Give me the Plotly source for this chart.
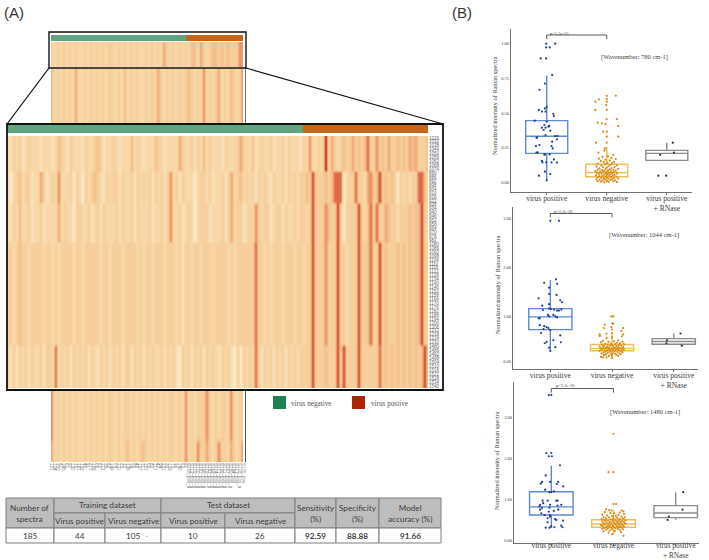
import plotly.graph_objects as go

W, H = 709, 560

# ---------- panel A data: digit-coded spectral intensity per band ----------
MAIN_BANDS = [
    "2132312322 2122212432 1322213223 4312232122 2423212224 3212222532 2313242322 2132223532 2412322312 2313222132 6223292532 3433534347 3363435334 3435453334",
    "2023423312 2531232622 2303203234 3213233132 2313232313 2313623132 2202332312 2313523423 2313232132 2313232334 3833343477 7023373325 6348343430 3232337742",
    "2132422312 2312222523 2203322312 3132223132 2313222312 2313622312 3202333122 2313523312 3263233123 3132232332 3833364338 3033338324 7373354332 3334344832",
    "3323433233 3323323233 3323323333 3233233323 3332323323 3323332313 3233233323 3332323333 3373323233 3233323323 3833363338 3323338334 7338343334 3434344833",
    "3131323132 2313327132 3132323132 1323132313 3132313232 2313231032 3132313232 1323103032 3273132313 2313232333 3833343338 3833338333 3337343434 3434343483",
]
MAIN_BAND_ROWS = [9, 8, 10, 26, 11]
ROW_LABELS = [
    "1026", "1032", "1038", "1044", "1050", "1056", "1062", "1068", "1074",
    "880", "886", "892", "898", "904", "910", "916", "922",
    "928", "934", "940", "946", "952", "958", "964", "970", "976", "982",
    "1080", "1086", "1092", "1098", "1104", "1110", "1116", "1122", "1128", "1134", "1140", "1146", "1152",
    "1158", "1164", "1170", "1176", "1182", "1188", "1194", "1200", "1206", "1212", "1218", "1224", "1230",
    "1480", "1486", "1492", "1498", "1504", "1510", "1516", "1522", "1528", "1534", "1540",
]
THUMB_TOP = "3232323232 2323232323 3232323232 2323232532 3232324425 3234434343 3365"
THUMB_MID = "4232323252 2323232323 3232423232 2323253232 3232343232 6232352324 3236"
THUMB_LOW_A = "6232323232 2323232323 3232332323 2323232323 3232623233 3632323326 3233"
THUMB_LOW_B = "5232323232 2323232323 3232342323 4323232323 3232623263 3532363325 3236"
THUMB_LABELS = [
    "121", "104", "330", "87", "145", "61", "90", "120", "76", "181", "132", "45", "91", "270", "158", "66",
    "50", "113", "39", "82", "149", "54", "101", "23", "70", "136", "14", "95", "48", "127", "31", "163",
    "58", "80", "117", "42", "84", "151", "20", "109", "73", "36", "140", "52", "97",
    "S168_pos_a", "S172_pos_a", "S175_pos_b", "S170_pos_a", "S181_pos_b", "S166_pos_a", "S179_pos_c", "S183_pos_a",
    "S169_pos_b", "S174_pos_a", "S177_pos_a", "S185_pos_b", "S171_pos_a", "S167_pos_c", "S180_pos_a", "S184_pos", "S173_pos",
    "S178_pos_a", "S176_pos",
]
N_GREEN, N_ORANGE = 130, 55
HEAT_COLORS = ["#fbeccb", "#f9e0b9", "#f8d8a9", "#f6cf9c", "#f3c08b", "#efa878", "#e88c60", "#dd6a48", "#c9422e", "#7f0000"]

# ---------- table ----------
TABLE_COLS = [6, 54, 105, 161, 225, 295, 336, 379, 441]
TABLE_ROWS = [498, 513, 528, 543]
TABLE_VALUES = ["185", "44", "105", "10", "26", "92.59", "88.88", "91.66"]

# ---------- panel B data ----------
CATS = ["virus positive", "virus negative", "virus positive<br>+ RNase"]
BOX_COLORS = ["#5f88d6", "#f0bd55", "#8c8c8c"]
DOT_COLORS = ["#1f3f94", "#d9890f", "#333333"]

# q1, median, q3, lower whisker, upper whisker
P1_STATS = [(.21, .333, .445, .02, .77), (.043, .072, .132, .0, .258), (.16, .21, .232, .16, .287)]
P2_STATS = [(.72, .98, 1.15, .29, 1.735), (.285, .335, .415, .16, .65), (.42, .475, .535, .42, .64)]
P3_STATS = [(.62, .82, 1.19, .30, 1.83), (.32, .40, .505, .13, .74), (.555, .67, .85, .505, 1.18)]

P1_POS = [(-.01,.998),(.14,.998),(-.01,.971),(.05,.971),(-.10,.892),(-.01,.892),(.09,.773),(-.03,.711),(-.12,.667),
          (0,.545),(-.03,.533),(-.13,.522),(-.08,.510),(-.02,.510),(.11,.493),(.12,.478),(-.20,.445),(0,.438),
          (-.04,.414),(.04,.407),(-.08,.395),(-.02,.395),(.03,.402),(-.05,.378),(.06,.373),(-.16,.323),(-.17,.323),
          (-.02,.342),(.14,.335),(.18,.335),(.17,.311),(.09,.294),(-.12,.270),(-.18,.263),(.08,.263),(.10,.246),
          (-.15,.218),(-.17,.215),(-.03,.203),(-.04,.201),(.05,.203),(.12,.167),(-.08,.156),(-.07,.146),(.08,.146),
          (.17,.144),(-.01,.146),(-.03,.079),(-.13,.050),(.06,.062),(0,.017)]
P1_NEG = [(0,.624),(.15,.624),(0,.60),(-.13,.598),(-.19,.581),(0,.581),(-.01,.557),(-.19,.522),(0,.522),(0,.457),
          (.17,.457),(-.15,.431),(-.08,.426),(-.02,.421),(.19,.407),(-.06,.366),(0,.366),(0,.33),(.19,.33),(-.18,.287),
          (0,.287),(-.03,.246),(-.04,.23),(-.14,.215),(.11,.20),(.02,.19),(-.07,.185),(.08,.178),(-.13,.172),(.15,.17),
          (-.02,.165),(.05,.16),(-.10,.155),(.12,.15),(-.05,.148),(.01,.142),(.09,.14),(-.15,.135),(-.03,.13),(.06,.128),
          (.17,.125),(-.09,.122),(.03,.118),(-.17,.115),(.13,.112),(-.06,.11),(.0,.108),(.08,.105),(-.12,.102),(.19,.1),
          (-.02,.098),(.05,.096),(-.15,.094),(.11,.092),(-.08,.09),(.02,.088),(.15,.086),(-.04,.085),(-.19,.083),(.07,.082),
          (-.11,.08),(.0,.078),(.12,.076),(-.06,.075),(.04,.073),(-.16,.072),(.09,.07),(-.01,.068),(.17,.066),(-.09,.065),
          (.02,.063),(-.13,.062),(.06,.06),(-.04,.058),(.13,.056),(.0,.055),(-.18,.053),(.1,.052),(-.07,.05),(.04,.048),
          (-.12,.046),(.16,.044),(-.02,.043),(.07,.041),(-.15,.039),(.01,.037),(-.09,.035),(.12,.034),(-.05,.032),(.19,.03),
          (.03,.028),(-.17,.026),(.09,.025),(-.03,.023),(-.12,.021),(.06,.019),(.14,.017),(-.07,.015),(.0,.013),(-.15,.011),
          (.11,.01),(-.1,.008),(.03,.006),(.17,.004),(-.04,.002)]
P1_RNA = [(.10,.287),(.12,.215),(-.11,.20),(-.14,.05),(-.01,.05)]

P2_POS = [(0,2.95),(.14,2.95),(.09,1.75),(-.10,1.68),(.11,1.66),(-.02,1.58),(-.02,1.45),(.10,1.43),(-.19,1.36),
          (-.02,1.24),(.16,1.32),(.19,1.28),(-.13,1.21),(-.02,1.15),(.18,1.13),(.01,1.14),(-.12,1.12),(.06,1.13),
          (.11,1.11),(.14,1.11),(-.04,1.02),(.05,1.02),(.08,.99),(.11,.97),(-.17,.95),(-.19,.95),(-.02,.99),
          (-.17,.81),(-.10,.79),(-.06,.77),(-.11,.73),(-.03,.75),(0,.71),(-.15,.65),(.16,.60),(-.06,.47),(-.09,.44),
          (.05,.50),(.17,.46),(-.02,.35),(.08,.36),(0,.28)]
P2_NEG = [(-.01,.99),(.02,.99),(0,.85),(-.12,.82),(.02,.84),(-.01,.77),(.18,.75),(-.13,.75),(0,.72),(.15,.69),
          (-.20,.62),(-.09,.64),(.18,.62),(0,.65),(.16,.58),(-.20,.59),(-.09,.55),(0,.56),
          (.10,.50),(-.15,.49),(.03,.48),(.17,.47),(-.06,.47),(-.18,.46),(.08,.45),(-.02,.44),(.13,.44),(-.11,.43),
          (.19,.42),(.05,.42),(-.07,.41),(-.16,.41),(.11,.40),(.0,.40),(-.03,.39),(.15,.39),(-.13,.38),(.07,.38),
          (-.2,.37),(.02,.37),(-.08,.36),(.18,.36),(.1,.355),(-.05,.35),(-.15,.35),(.04,.345),(.13,.34),(-.1,.34),
          (-.01,.335),(.07,.33),(-.18,.33),(.16,.325),(-.06,.32),(.02,.32),(-.12,.315),(.1,.31),(.19,.31),(-.03,.305),
          (-.16,.30),(.06,.30),(.12,.295),(-.08,.29),(.0,.29),(-.2,.285),(.15,.28),(.04,.275),(-.11,.27),(-.04,.265),
          (.09,.26),(.17,.255),(-.14,.25),(.01,.245),(-.07,.24),(.12,.235),(-.17,.23),(.05,.225),(-.02,.22),(.14,.215),
          (-.1,.21),(.07,.205),(-.13,.20),(.0,.19),(-.05,.18),(.1,.18),(-.18,.16),(-.15,.15),(-.09,.15),(0,.14)]
P2_RNA = [(.11,.64),(-.11,.50),(-.12,.44),(.13,.39)]

P3_POS = [(-.04,3.56),(0,3.56),(-.08,2.14),(0,2.14),(-.04,2.06),(.01,2.06),(.14,1.84),(-.09,1.59),(-.15,1.43),
          (-.17,1.39),(-.02,1.43),(.11,1.43),(.09,1.38),(.19,1.32),(-.10,1.24),(-.03,1.18),(0,1.18),(.04,1.2),
          (-.14,.97),(-.13,.91),(-.06,.97),(.08,.97),(.10,.97),(-.18,.87),(-.19,.83),(-.02,.87),(.10,.85),(.16,.87),
          (-.15,.79),(-.03,.80),(-.18,.75),(.11,.75),(-.04,.70),(.04,.72),(-.16,.66),(-.11,.62),(-.02,.62),(-.02,.58),
          (-.06,.54),(.06,.52),(.08,.50),(.19,.48),(-.06,.44),(0,.34),(-.09,.31),(-.03,.31),(.05,.32),(.16,.36),(.18,.32)]
P3_NEG = [(0,2.61),(-.08,1.67),(0,1.67),(0,.89),(.04,.89),(-.12,.76),(-.07,.74),(-.03,.73),(.13,.73),(.16,.71),
          (-.14,.69),(.1,.68),(-.05,.67),(.01,.66),(.17,.65),(-.18,.63),(.08,.62),(-.1,.61),(.04,.60),(-.02,.59),
          (.13,.58),(-.16,.57),(.18,.56),(-.07,.56),(.06,.55),(-.12,.54),(.0,.54),(.15,.53),(-.19,.52),(.1,.52),
          (-.04,.51),(.03,.50),(-.15,.50),(.19,.49),(-.09,.49),(.08,.48),(-.01,.48),(.14,.47),(-.13,.47),(.05,.46),
          (-.18,.46),(-.06,.45),(.11,.45),(.01,.44),(.17,.44),(-.11,.43),(-.03,.43),(.07,.42),(-.16,.42),(.13,.41),
          (-.08,.41),(.02,.40),(.19,.40),(-.14,.39),(.09,.39),(-.05,.38),(.04,.38),(-.2,.37),(.15,.37),(-.1,.36),
          (-.01,.36),(.11,.35),(-.17,.35),(.06,.34),(-.07,.34),(.17,.33),(.0,.33),(-.12,.32),(.09,.32),(-.04,.31),
          (.13,.31),(-.15,.30),(.03,.30),(-.09,.29),(.07,.28),(-.18,.28),(.15,.27),(-.02,.27),(-.12,.26),(.1,.25),
          (-.06,.24),(.02,.23),(-.16,.22),(.12,.2),(-.08,.19),(-.02,.15),(.16,.11)]
P3_RNA = [(.12,1.18),(.11,.75),(-.11,.58),(-.13,.50)]

# ---------- helpers ----------
def expand(s):
    return [int(c) for c in s.replace(" ", "")]

def dom(x0, x1, y0, y1):
    return dict(domain=[x0 / W, x1 / W]), dict(domain=[1 - y1 / H, 1 - y0 / H])

def px(x):
    return x / W

def py(y):
    return 1 - y / H

fig = go.Figure()
layout = dict()
axis_n = [0]
colorscale = [[i / 9, c] for i, c in enumerate(HEAT_COLORS)]
bar_scale = [[0, "#5fa580"], [1, "#c4661b"]]

def new_axes(x0, x1, y0, y1, xopts=None, yopts=None):
    axis_n[0] += 1
    n = axis_n[0]
    sfx = "" if n == 1 else str(n)
    xd, yd = dom(x0, x1, y0, y1)
    base = dict(showgrid=False, zeroline=False, showticklabels=False, ticks="", showline=False, automargin=False)
    layout["xaxis" + sfx] = {**base, **xd, "anchor": "y" + sfx, **(xopts or {})}
    layout["yaxis" + sfx] = {**base, **yd, "anchor": "x" + sfx, **(yopts or {})}
    return "x" + sfx, "y" + sfx

def heat(z, box, xopts=None, yopts=None, scale=colorscale, zmax=9, smooth="best"):
    xa, ya = new_axes(*box, xopts, yopts)
    fig.add_trace(go.Heatmap(z=z, colorscale=scale, zmin=0, zmax=zmax, showscale=False, zsmooth=smooth,
                             xaxis=xa, yaxis=ya, hoverinfo="skip"))

# ---------- panel A heatmaps ----------
main_z = []
for band, rows in zip(MAIN_BANDS, MAIN_BAND_ROWS):
    main_z += [expand(band)] * rows
heat(main_z, (7, 428, 136, 388),
     dict(range=[0, 139]),
     dict(range=[63.5, -.5], side="right", showticklabels=True, tickmode="array",
          tickvals=list(range(64)), ticktext=ROW_LABELS, tickfont=dict(size=4.5, color="#666666", family="Liberation Sans")))
bar = [[0] * N_GREEN + [1] * N_ORANGE]
heat(bar, (7, 428, 125, 133), scale=bar_scale, zmax=1, smooth=False)
heat(bar, (51, 243, 35, 41), scale=bar_scale, zmax=1, smooth=False)
heat([expand(THUMB_TOP)] * 2, (51, 243, 42, 67), dict(range=[0, 63]))
heat([expand(THUMB_MID)] * 2, (51, 243, 68, 124), dict(range=[0, 63]))
heat([expand(THUMB_LOW_B)] * 3 + [expand(THUMB_LOW_A)] * 7, (51, 243, 390, 462),
     dict(range=[0, 63], showticklabels=True, tickmode="array", tickvals=list(range(64)), ticktext=THUMB_LABELS, tickangle=90,
          tickfont=dict(size=4.5, color="#808080", family="Liberation Sans")))

# ---------- panel B ----------
panels = [
    dict(box=(511, 692, 29, 192), xr=[-.595, 2.42], yr=[-.067, 1.103], stats=P1_STATS, pts=[P1_POS, P1_NEG, P1_RNA],
         tv=[0, .25, .5, .75, 1], tt=["0.00", "0.25", "0.50", "0.75", "1.00"], br=(1.06, 1.03), so=-3, fs=7.6,
         p="p<1.5e-15", px=559, py=33.7, wave="[Wavenumber: 780 cm-1]", wx=634, wy=57, tx=494, ty=106),
    dict(box=(513, 698, 207, 369), xr=[-.605, 2.393], yr=[-.088, 3.233], stats=P2_STATS, pts=[P2_POS, P2_NEG, P2_RNA],
         tv=[.066, 1, 2, 3], tt=["0.00", "1.00", "2.00", "3.00"], br=(3.10, 3.02), so=-3, fs=7.6,
         p="p<2.2e-16", px=563, py=211, wave="[Wavenumber: 1044 cm-1]", wx=644, wy=234.7, tx=497, ty=285),
    dict(box=(514, 699, 382, 542.7), xr=[-.6, 2.375], yr=[-.059, 3.88], stats=P3_STATS, pts=[P3_POS, P3_NEG, P3_RNA],
         tv=[0, 1, 2, 3], tt=["0.00", "1.00", "2.00", "3.00"], br=(3.72, 3.62), so=-6, fs=7.3,
         p="p<2.2e-16", px=565, py=385, wave="[Wavenumber: 1480 cm-1]", wx=645, wy=411.7, tx=496, ty=461),
]
annotations = []
SERIF = "Liberation Serif"

def note(x, y, text, size, color="#404040", family=SERIF, angle=0, xanchor="center", bold=False):
    if bold:
        text = "<b>" + text + "</b>"
    annotations.append(dict(x=px(x), y=py(y), xref="paper", yref="paper", text=text, showarrow=False,
                            font=dict(size=size, color=color, family=family), textangle=angle,
                            xanchor=xanchor, yanchor="middle", align="center"))

axis_line = dict(showline=True, linecolor="#707070", linewidth=1)
for pan in panels:
    xa, ya = new_axes(*pan["box"],
                      dict(range=pan["xr"], tickmode="array", tickvals=[0, 1, 2], ticktext=CATS, showticklabels=True,
                           ticks="outside", ticklen=2, tickcolor="#707070", ticklabelstandoff=pan["so"],
                           tickfont=dict(size=pan["fs"], color="#404040", family=SERIF), **axis_line),
                      dict(range=pan["yr"], tickmode="array", tickvals=pan["tv"], ticktext=pan["tt"], showticklabels=True,
                           tickfont=dict(size=4.5, color="#404040", family=SERIF), **axis_line))
    for i, (st, pts) in enumerate(zip(pan["stats"], pan["pts"])):
        fig.add_trace(go.Box(x=[i], q1=[st[0]], median=[st[1]], q3=[st[2]], lowerfence=[st[3]], upperfence=[st[4]],
                             width=.7, whiskerwidth=0, boxpoints=False, fillcolor="rgba(0,0,0,0)",
                             line=dict(color=BOX_COLORS[i], width=1.4), xaxis=xa, yaxis=ya, hoverinfo="skip"))
        fig.add_trace(go.Scatter(x=[i + p[0] for p in pts], y=[p[1] for p in pts], mode="markers",
                                 marker=dict(size=2.2, color=DOT_COLORS[i]), xaxis=xa, yaxis=ya, hoverinfo="skip"))
    top, low = pan["br"]
    fig.add_trace(go.Scatter(x=[0, 0, 1, 1], y=[low, top, top, low], mode="lines",
                             line=dict(color="#5a5a5a", width=1), xaxis=xa, yaxis=ya, hoverinfo="skip"))
    note(pan["px"], pan["py"], pan["p"], 4.5)
    note(pan["wx"], pan["wy"], pan["wave"], 6.5)
    note(pan["tx"], pan["ty"], "Normalized intensity of Raman spectra", 6.3, angle=-90)

# ---------- shapes ----------
shapes = []

def rect(x0, y0, x1, y1, line=None, width=1, fill=None):
    shapes.append(dict(type="rect", xref="paper", yref="paper", x0=px(x0), x1=px(x1), y0=py(y0), y1=py(y1),
                       line=dict(color=line, width=width) if line else dict(width=0), fillcolor=fill, layer="above"))

def seg(x0, y0, x1, y1, color="#111111", width=1.2):
    shapes.append(dict(type="line", xref="paper", yref="paper", x0=px(x0), x1=px(x1), y0=py(y0), y1=py(y1),
                       line=dict(color=color, width=width), layer="above"))

seg(245.5, 68, 245.5, 124, "#777777", 1)
seg(245.5, 390, 245.5, 462, "#555555", 1)
rect(49, 32, 246, 68, "#111111", 1.4)
rect(7, 124, 443, 390, "#111111", 1.8)
seg(49, 68, 7, 124)
seg(246, 68, 443, 124)
rect(273, 396, 286, 409, fill="#1f8050")
rect(352, 396, 365, 409, fill="#ad2408")
note(289, 404, "virus negative", 7.2, "#555555", xanchor="left")
note(369, 404, "virus postive", 7.2, "#555555", xanchor="left")
note(2, 12, "(A)", 15, "#333333", "Liberation Sans", xanchor="left")
note(450, 12, "(B)", 15, "#333333", "Liberation Sans", xanchor="left")

# ---------- table ----------
C, R = TABLE_COLS, TABLE_ROWS
BORDER = "#7f7f7f"
GRAY = "#bdbdbd"
TEXT = "#404040"
LATO = "Lato"
rect(C[0], R[0], C[1], R[2], BORDER, 1, GRAY)
rect(C[1], R[0], C[3], R[1], BORDER, 1, GRAY)
rect(C[3], R[0], C[5], R[1], BORDER, 1, GRAY)
for k in (1, 2, 3, 4):
    rect(C[k], R[1], C[k + 1], R[2], BORDER, 1, GRAY)
for k in (5, 6, 7):
    rect(C[k], R[0], C[k + 1], R[2], BORDER, 1, GRAY)
for k in range(8):
    rect(C[k], R[2], C[k + 1], R[3], BORDER, 1, "#ffffff")

def mid(a, b):
    return (a + b) / 2

TS = 8.2
note(mid(C[0], C[1]), mid(R[0], R[2]), "Number of<br>spectra", TS, TEXT, LATO)
note(mid(C[1], C[3]), mid(R[0], R[1]) - .5, "Training dataset", TS, TEXT, LATO)
note(mid(C[3], C[5]), mid(R[0], R[1]) - .5, "Test dataset", TS, TEXT, LATO)
for k, t in zip((1, 2, 3, 4), ("Virus positive", "Virus negative", "Virus positive", "Virus negative")):
    note(mid(C[k], C[k + 1]), mid(R[1], R[2]), t, TS, TEXT, LATO)
for k, t in zip((5, 6, 7), ("Sensitivity<br>(%)", "Specificity<br>(%)", "Model<br>accuracy (%)")):
    note(mid(C[k], C[k + 1]), mid(R[0], R[2]), t, TS, TEXT, LATO)
for k, t in enumerate(TABLE_VALUES):
    note(mid(C[k], C[k + 1]), mid(R[2], R[3]), t, TS, TEXT, LATO, bold=k >= 5)
note(147, 535, "·", 6, "#808080", LATO)

fig.update_layout(**layout)
fig.update_layout(width=W, height=H, autosize=False, margin=dict(l=0, r=0, t=0, b=0), showlegend=False,
                  paper_bgcolor="#ffffff", plot_bgcolor="rgba(0,0,0,0)", annotations=annotations, shapes=shapes)
fig.write_html("out.html", config=dict(displayModeBar=False),
               post_script="document.body.style.margin='0';document.body.style.overflow='hidden';")
